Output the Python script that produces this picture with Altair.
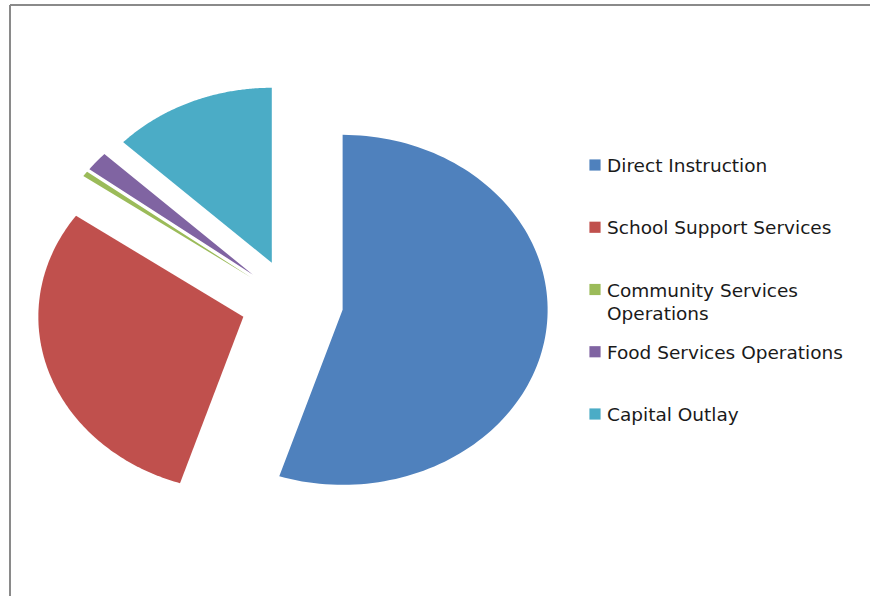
import altair as alt
import pandas as pd

# ---- data ----
categories = ["Direct Instruction", "School Support Services",
              "Community Services Operations", "Food Services Operations",
              "Capital Outlay"]
values = [55.0, 29.8, 0.5, 1.8, 12.9]
legend_labels = ["Direct Instruction", "School Support Services",
                 "Community Services\nOperations", "Food Services Operations",
                 "Capital Outlay"]
colors = ["#4F81BD", "#C0504D", "#9BBB59", "#8064A2", "#4BACC6"]

# ---- layout constants ----
W, H = 870, 596
CX, CY = 292, 303          # pie centre in pixels
RX, RY = 205, 175          # ellipse radii in pixels (stretched pie)
EXPLODE = 0.25             # explosion as a fraction of radius
N = 120                    # arc segments per slice

df = pd.DataFrame({"category": categories, "value": values,
                   "order": list(range(len(categories)))})
leg_df = pd.DataFrame({"category": categories, "label": legend_labels})

x_dom = [-CX / RX, (W - CX) / RX]
y_dom = [-(H - CY) / RY, CY / RY]

color_enc = alt.Color("category:N",
                      scale=alt.Scale(domain=categories, range=colors),
                      legend=None)

pie = (
    alt.Chart(df)
    .transform_joinaggregate(total="sum(value)")
    .transform_window(cum="sum(value)", sort=[alt.SortField("order")],
                      frame=[None, 0])
    .transform_calculate(
        a0="2*PI*(datum.cum - datum.value)/datum.total",
        a1="2*PI*datum.cum/datum.total",
    )
    .transform_calculate(
        mid="(datum.a0 + datum.a1)/2",
        idx=f"sequence(0, {N + 2})",
    )
    .transform_flatten(["idx"])
    .transform_calculate(
        t=f"clamp((datum.idx - 1)/{N}, 0, 1)",
        r="datum.idx == 0 ? 0 : 1",
    )
    .transform_calculate(ang="datum.a0 + (datum.a1 - datum.a0)*datum.t")
    .transform_calculate(
        px=f"{EXPLODE}*sin(datum.mid) + datum.r*sin(datum.ang)",
        py=f"{EXPLODE}*cos(datum.mid) + datum.r*cos(datum.ang)",
    )
    .mark_line(filled=True, strokeWidth=0, interpolate="linear")
    .encode(
        x=alt.X("px:Q", scale=alt.Scale(domain=x_dom, nice=False, zero=False), axis=None),
        y=alt.Y("py:Q", scale=alt.Scale(domain=y_dom, nice=False, zero=False), axis=None),
        color=color_enc,
        order=alt.Order("idx:Q"),
    )
)

leg_y = alt.Y("category:N", sort=categories,
              scale=alt.Scale(domain=categories, range=[165, 414], padding=0),
              axis=None)

squares = alt.Chart(leg_df).mark_square(size=125, opacity=1).encode(
    x=alt.value(595), y=leg_y, color=color_enc)

texts = alt.Chart(leg_df).mark_text(
    align="left", baseline="top", dy=-8, font="DejaVu Sans", fontSize=18.5,
    lineBreak="\n", lineHeight=23.5, color="#1a1a1a"
).encode(x=alt.value(607), y=leg_y, text="label:N")

frame_df = pd.DataFrame({"k": [0]})
border_left = alt.Chart(frame_df).mark_rule(color="#8a8a8a", strokeWidth=2).encode(
    x=alt.value(10), y=alt.value(5), y2=alt.value(H))
border_top = alt.Chart(frame_df).mark_rule(color="#8a8a8a", strokeWidth=2).encode(
    x=alt.value(10), x2=alt.value(W), y=alt.value(5))

chart = (
    alt.layer(pie, squares, texts, border_left, border_top)
    .resolve_scale(x="independent", y="independent")
    .properties(width=W, height=H, padding=0,
                autosize=alt.AutoSizeParams(type="none"))
    .configure_view(stroke=None)
)

chart.save("out.html", embed_options={"renderer": "svg", "actions": False})
